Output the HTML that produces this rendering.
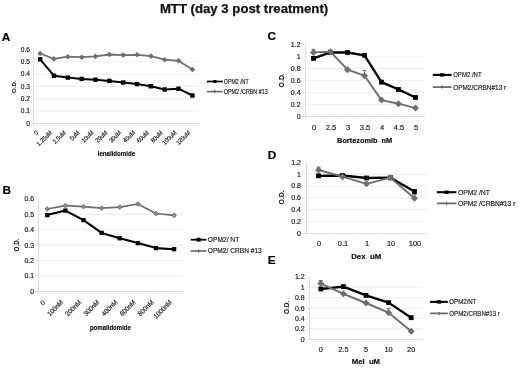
<!DOCTYPE html>
<html><head><meta charset="utf-8"><style>
html,body{margin:0;padding:0;background:#fff;}
svg{display:block;font-family:"Liberation Sans", sans-serif;filter:grayscale(1) blur(0.35px);}

</style></head><body>
<svg width="520" height="368" viewBox="0 0 520 368">
<rect width="520" height="368" fill="#fff"/>
<text x="159.9" y="12.8" font-size="13" font-weight="bold" fill="#111" stroke="#111" stroke-width="0.25" textLength="168.3" lengthAdjust="spacingAndGlyphs">MTT (day 3 post treatment)</text>
<line x1="30.5" y1="111.00" x2="199.3" y2="111.00" stroke="#eeeeee" stroke-width="1.1"/>
<line x1="30.5" y1="98.70" x2="199.3" y2="98.70" stroke="#eeeeee" stroke-width="1.1"/>
<line x1="30.5" y1="86.40" x2="199.3" y2="86.40" stroke="#eeeeee" stroke-width="1.1"/>
<line x1="30.5" y1="74.10" x2="199.3" y2="74.10" stroke="#eeeeee" stroke-width="1.1"/>
<line x1="30.5" y1="61.80" x2="199.3" y2="61.80" stroke="#eeeeee" stroke-width="1.1"/>
<line x1="33.5" y1="49.50" x2="33.5" y2="123.5" stroke="#dedede" stroke-width="1"/>
<line x1="30.5" y1="123.5" x2="199.3" y2="123.5" stroke="#dedede" stroke-width="1"/>
<line x1="33.5" y1="123.5" x2="33.5" y2="125.5" stroke="#e6e6e6" stroke-width="1"/>
<line x1="47.5" y1="123.5" x2="47.5" y2="125.5" stroke="#e6e6e6" stroke-width="1"/>
<line x1="60.5" y1="123.5" x2="60.5" y2="125.5" stroke="#e6e6e6" stroke-width="1"/>
<line x1="74.5" y1="123.5" x2="74.5" y2="125.5" stroke="#e6e6e6" stroke-width="1"/>
<line x1="88.5" y1="123.5" x2="88.5" y2="125.5" stroke="#e6e6e6" stroke-width="1"/>
<line x1="102.5" y1="123.5" x2="102.5" y2="125.5" stroke="#e6e6e6" stroke-width="1"/>
<line x1="116.5" y1="123.5" x2="116.5" y2="125.5" stroke="#e6e6e6" stroke-width="1"/>
<line x1="130.5" y1="123.5" x2="130.5" y2="125.5" stroke="#e6e6e6" stroke-width="1"/>
<line x1="143.5" y1="123.5" x2="143.5" y2="125.5" stroke="#e6e6e6" stroke-width="1"/>
<line x1="157.5" y1="123.5" x2="157.5" y2="125.5" stroke="#e6e6e6" stroke-width="1"/>
<line x1="171.5" y1="123.5" x2="171.5" y2="125.5" stroke="#e6e6e6" stroke-width="1"/>
<line x1="185.5" y1="123.5" x2="185.5" y2="125.5" stroke="#e6e6e6" stroke-width="1"/>
<line x1="199.5" y1="123.5" x2="199.5" y2="125.5" stroke="#e6e6e6" stroke-width="1"/>
<text x="30" y="125.61" font-size="6.6" text-anchor="end" font-weight="normal" fill="#1e1e1e" stroke="#1e1e1e" stroke-width="0.18" >0</text>
<text x="30" y="113.31" font-size="6.6" text-anchor="end" font-weight="normal" fill="#1e1e1e" stroke="#1e1e1e" stroke-width="0.18" >0.1</text>
<text x="30" y="101.01" font-size="6.6" text-anchor="end" font-weight="normal" fill="#1e1e1e" stroke="#1e1e1e" stroke-width="0.18" >0.2</text>
<text x="30" y="88.71" font-size="6.6" text-anchor="end" font-weight="normal" fill="#1e1e1e" stroke="#1e1e1e" stroke-width="0.18" >0.3</text>
<text x="30" y="76.41" font-size="6.6" text-anchor="end" font-weight="normal" fill="#1e1e1e" stroke="#1e1e1e" stroke-width="0.18" >0.4</text>
<text x="30" y="64.11" font-size="6.6" text-anchor="end" font-weight="normal" fill="#1e1e1e" stroke="#1e1e1e" stroke-width="0.18" >0.5</text>
<text x="30" y="51.81" font-size="6.6" text-anchor="end" font-weight="normal" fill="#1e1e1e" stroke="#1e1e1e" stroke-width="0.18" >0.6</text>
<text transform="translate(16.4,86.7) rotate(-90)" font-size="6.2" font-weight="bold" text-anchor="middle" fill="#111">O.D.</text>
<text x="1.8" y="40.6" font-size="11.8" text-anchor="start" font-weight="bold" fill="#000" stroke="#000" stroke-width="0.18" >A</text>
<text transform="translate(38.62,133.10) rotate(-45) scale(0.9,1)" font-size="6.3" text-anchor="end" fill="#1e1e1e" stroke="#1e1e1e" stroke-width="0.18">0</text>
<text transform="translate(52.46,133.10) rotate(-45) scale(0.9,1)" font-size="6.3" text-anchor="end" fill="#1e1e1e" stroke="#1e1e1e" stroke-width="0.18">1.25uM</text>
<text transform="translate(66.30,133.10) rotate(-45) scale(0.9,1)" font-size="6.3" text-anchor="end" fill="#1e1e1e" stroke="#1e1e1e" stroke-width="0.18">2.5uM</text>
<text transform="translate(80.15,133.10) rotate(-45) scale(0.9,1)" font-size="6.3" text-anchor="end" fill="#1e1e1e" stroke="#1e1e1e" stroke-width="0.18">5uM</text>
<text transform="translate(93.99,133.10) rotate(-45) scale(0.9,1)" font-size="6.3" text-anchor="end" fill="#1e1e1e" stroke="#1e1e1e" stroke-width="0.18">10uM</text>
<text transform="translate(107.83,133.10) rotate(-45) scale(0.9,1)" font-size="6.3" text-anchor="end" fill="#1e1e1e" stroke="#1e1e1e" stroke-width="0.18">20uM</text>
<text transform="translate(121.67,133.10) rotate(-45) scale(0.9,1)" font-size="6.3" text-anchor="end" fill="#1e1e1e" stroke="#1e1e1e" stroke-width="0.18">30uM</text>
<text transform="translate(135.51,133.10) rotate(-45) scale(0.9,1)" font-size="6.3" text-anchor="end" fill="#1e1e1e" stroke="#1e1e1e" stroke-width="0.18">40uM</text>
<text transform="translate(149.35,133.10) rotate(-45) scale(0.9,1)" font-size="6.3" text-anchor="end" fill="#1e1e1e" stroke="#1e1e1e" stroke-width="0.18">60uM</text>
<text transform="translate(163.20,133.10) rotate(-45) scale(0.9,1)" font-size="6.3" text-anchor="end" fill="#1e1e1e" stroke="#1e1e1e" stroke-width="0.18">80uM</text>
<text transform="translate(177.04,133.10) rotate(-45) scale(0.9,1)" font-size="6.3" text-anchor="end" fill="#1e1e1e" stroke="#1e1e1e" stroke-width="0.18">100uM</text>
<text transform="translate(190.88,133.10) rotate(-45) scale(0.9,1)" font-size="6.3" text-anchor="end" fill="#1e1e1e" stroke="#1e1e1e" stroke-width="0.18">120uM</text>
<text x="116.4" y="156.2" font-size="6.6" text-anchor="middle" font-weight="bold" fill="#111" stroke="#111" stroke-width="0.18" textLength="37.4" lengthAdjust="spacingAndGlyphs" >lenalidomide</text>
<polyline points="40.12,59.30 53.96,75.70 67.80,77.60 81.65,78.90 95.49,79.70 109.33,80.90 123.17,82.50 137.01,84.10 150.85,86.30 164.70,89.50 178.54,88.70 192.38,95.50" fill="none" stroke="#000" stroke-width="2" stroke-linejoin="round"/>
<rect x="37.92" y="57.10" width="4.4" height="4.4" fill="#000"/>
<rect x="51.76" y="73.50" width="4.4" height="4.4" fill="#000"/>
<rect x="65.60" y="75.40" width="4.4" height="4.4" fill="#000"/>
<rect x="79.45" y="76.70" width="4.4" height="4.4" fill="#000"/>
<rect x="93.29" y="77.50" width="4.4" height="4.4" fill="#000"/>
<rect x="107.13" y="78.70" width="4.4" height="4.4" fill="#000"/>
<rect x="120.97" y="80.30" width="4.4" height="4.4" fill="#000"/>
<rect x="134.81" y="81.90" width="4.4" height="4.4" fill="#000"/>
<rect x="148.65" y="84.10" width="4.4" height="4.4" fill="#000"/>
<rect x="162.50" y="87.30" width="4.4" height="4.4" fill="#000"/>
<rect x="176.34" y="86.50" width="4.4" height="4.4" fill="#000"/>
<rect x="190.18" y="93.30" width="4.4" height="4.4" fill="#000"/>
<polyline points="40.12,53.50 53.96,58.90 67.80,56.70 81.65,57.20 95.49,56.40 109.33,54.50 123.17,55.10 137.01,54.80 150.85,56.10 164.70,59.70 178.54,60.80 192.38,69.50" fill="none" stroke="#6e6e6e" stroke-width="1.8" stroke-linejoin="round"/>
<path d="M40.12 50.70L42.92 53.50L40.12 56.30L37.32 53.50Z" fill="#6e6e6e"/>
<path d="M53.96 56.10L56.76 58.90L53.96 61.70L51.16 58.90Z" fill="#6e6e6e"/>
<path d="M67.80 53.90L70.60 56.70L67.80 59.50L65.00 56.70Z" fill="#6e6e6e"/>
<path d="M81.65 54.40L84.45 57.20L81.65 60.00L78.85 57.20Z" fill="#6e6e6e"/>
<path d="M95.49 53.60L98.29 56.40L95.49 59.20L92.69 56.40Z" fill="#6e6e6e"/>
<path d="M109.33 51.70L112.13 54.50L109.33 57.30L106.53 54.50Z" fill="#6e6e6e"/>
<path d="M123.17 52.30L125.97 55.10L123.17 57.90L120.37 55.10Z" fill="#6e6e6e"/>
<path d="M137.01 52.00L139.81 54.80L137.01 57.60L134.21 54.80Z" fill="#6e6e6e"/>
<path d="M150.85 53.30L153.65 56.10L150.85 58.90L148.05 56.10Z" fill="#6e6e6e"/>
<path d="M164.70 56.90L167.50 59.70L164.70 62.50L161.90 59.70Z" fill="#6e6e6e"/>
<path d="M178.54 58.00L181.34 60.80L178.54 63.60L175.74 60.80Z" fill="#6e6e6e"/>
<path d="M192.38 66.70L195.18 69.50L192.38 72.30L189.58 69.50Z" fill="#6e6e6e"/>
<line x1="206.9" y1="81.5" x2="222.8" y2="81.5" stroke="#000" stroke-width="1.7"/>
<rect x="213.35" y="80.00" width="3" height="3" fill="#000"/>
<line x1="206.9" y1="91.6" x2="222.8" y2="91.6" stroke="#666" stroke-width="1.6"/>
<path d="M214.85 89.60L216.15 91.60L214.85 93.60L213.55 91.60Z" fill="#666"/>
<text x="223.8" y="83.98" font-size="6.9" text-anchor="start" font-weight="normal" fill="#222" stroke="#222" stroke-width="0.18" textLength="24.8" lengthAdjust="spacingAndGlyphs" >OPM2 /NT</text>
<text x="223.8" y="94.08" font-size="6.9" text-anchor="start" font-weight="normal" fill="#222" stroke="#222" stroke-width="0.18" textLength="43.9" lengthAdjust="spacingAndGlyphs" >OPM2 /CRBN #13</text>
<line x1="35.5" y1="275.92" x2="183.2" y2="275.92" stroke="#eeeeee" stroke-width="1.1"/>
<line x1="35.5" y1="260.54" x2="183.2" y2="260.54" stroke="#eeeeee" stroke-width="1.1"/>
<line x1="35.5" y1="245.16" x2="183.2" y2="245.16" stroke="#eeeeee" stroke-width="1.1"/>
<line x1="35.5" y1="229.78" x2="183.2" y2="229.78" stroke="#eeeeee" stroke-width="1.1"/>
<line x1="35.5" y1="214.40" x2="183.2" y2="214.40" stroke="#eeeeee" stroke-width="1.1"/>
<line x1="38.5" y1="199.02" x2="38.5" y2="291.5" stroke="#dedede" stroke-width="1"/>
<line x1="35.5" y1="291.5" x2="183.2" y2="291.5" stroke="#dedede" stroke-width="1"/>
<line x1="38.5" y1="291.5" x2="38.5" y2="293.5" stroke="#e6e6e6" stroke-width="1"/>
<line x1="56.5" y1="291.5" x2="56.5" y2="293.5" stroke="#e6e6e6" stroke-width="1"/>
<line x1="74.5" y1="291.5" x2="74.5" y2="293.5" stroke="#e6e6e6" stroke-width="1"/>
<line x1="92.5" y1="291.5" x2="92.5" y2="293.5" stroke="#e6e6e6" stroke-width="1"/>
<line x1="110.5" y1="291.5" x2="110.5" y2="293.5" stroke="#e6e6e6" stroke-width="1"/>
<line x1="128.5" y1="291.5" x2="128.5" y2="293.5" stroke="#e6e6e6" stroke-width="1"/>
<line x1="146.5" y1="291.5" x2="146.5" y2="293.5" stroke="#e6e6e6" stroke-width="1"/>
<line x1="165.5" y1="291.5" x2="165.5" y2="293.5" stroke="#e6e6e6" stroke-width="1"/>
<line x1="183.5" y1="291.5" x2="183.5" y2="293.5" stroke="#e6e6e6" stroke-width="1"/>
<text x="34" y="293.72" font-size="6.9" text-anchor="end" font-weight="normal" fill="#1e1e1e" stroke="#1e1e1e" stroke-width="0.18" >0</text>
<text x="34" y="278.34" font-size="6.9" text-anchor="end" font-weight="normal" fill="#1e1e1e" stroke="#1e1e1e" stroke-width="0.18" >0.1</text>
<text x="34" y="262.96" font-size="6.9" text-anchor="end" font-weight="normal" fill="#1e1e1e" stroke="#1e1e1e" stroke-width="0.18" >0.2</text>
<text x="34" y="247.58" font-size="6.9" text-anchor="end" font-weight="normal" fill="#1e1e1e" stroke="#1e1e1e" stroke-width="0.18" >0.3</text>
<text x="34" y="232.19" font-size="6.9" text-anchor="end" font-weight="normal" fill="#1e1e1e" stroke="#1e1e1e" stroke-width="0.18" >0.4</text>
<text x="34" y="216.81" font-size="6.9" text-anchor="end" font-weight="normal" fill="#1e1e1e" stroke="#1e1e1e" stroke-width="0.18" >0.5</text>
<text x="34" y="201.44" font-size="6.9" text-anchor="end" font-weight="normal" fill="#1e1e1e" stroke="#1e1e1e" stroke-width="0.18" >0.6</text>
<text transform="translate(19,245) rotate(-90)" font-size="6.3" font-weight="bold" text-anchor="middle" fill="#111">O.D.</text>
<text x="2.6" y="193.9" font-size="11.8" text-anchor="start" font-weight="bold" fill="#000" stroke="#000" stroke-width="0.18" >B</text>
<text transform="translate(45.46,302.90) rotate(-45) scale(0.93,1)" font-size="6.8" text-anchor="end" fill="#1e1e1e" stroke="#1e1e1e" stroke-width="0.18">0</text>
<text transform="translate(63.59,302.90) rotate(-45) scale(0.93,1)" font-size="6.8" text-anchor="end" fill="#1e1e1e" stroke="#1e1e1e" stroke-width="0.18">100nM</text>
<text transform="translate(81.71,302.90) rotate(-45) scale(0.93,1)" font-size="6.8" text-anchor="end" fill="#1e1e1e" stroke="#1e1e1e" stroke-width="0.18">200nM</text>
<text transform="translate(99.84,302.90) rotate(-45) scale(0.93,1)" font-size="6.8" text-anchor="end" fill="#1e1e1e" stroke="#1e1e1e" stroke-width="0.18">300nM</text>
<text transform="translate(117.96,302.90) rotate(-45) scale(0.93,1)" font-size="6.8" text-anchor="end" fill="#1e1e1e" stroke="#1e1e1e" stroke-width="0.18">400nM</text>
<text transform="translate(136.09,302.90) rotate(-45) scale(0.93,1)" font-size="6.8" text-anchor="end" fill="#1e1e1e" stroke="#1e1e1e" stroke-width="0.18">600nM</text>
<text transform="translate(154.21,302.90) rotate(-45) scale(0.93,1)" font-size="6.8" text-anchor="end" fill="#1e1e1e" stroke="#1e1e1e" stroke-width="0.18">800nM</text>
<text transform="translate(172.34,302.90) rotate(-45) scale(0.93,1)" font-size="6.8" text-anchor="end" fill="#1e1e1e" stroke="#1e1e1e" stroke-width="0.18">1000nM</text>
<text x="110.4" y="330" font-size="6.8" text-anchor="middle" font-weight="bold" fill="#111" stroke="#111" stroke-width="0.18" textLength="41" lengthAdjust="spacingAndGlyphs" >pomalidomide</text>
<polyline points="47.26,215.10 65.39,210.60 83.51,220.10 101.64,232.90 119.76,238.30 137.89,243.10 156.01,248.10 174.14,249.20" fill="none" stroke="#000" stroke-width="2.1" stroke-linejoin="round"/>
<rect x="45.11" y="212.95" width="4.3" height="4.3" fill="#000"/>
<rect x="63.24" y="208.45" width="4.3" height="4.3" fill="#000"/>
<rect x="81.36" y="217.95" width="4.3" height="4.3" fill="#000"/>
<rect x="99.49" y="230.75" width="4.3" height="4.3" fill="#000"/>
<rect x="117.61" y="236.15" width="4.3" height="4.3" fill="#000"/>
<rect x="135.74" y="240.95" width="4.3" height="4.3" fill="#000"/>
<rect x="153.86" y="245.95" width="4.3" height="4.3" fill="#000"/>
<rect x="171.99" y="247.05" width="4.3" height="4.3" fill="#000"/>
<polyline points="47.26,209.00 65.39,205.60 83.51,206.60 101.64,208.10 119.76,207.10 137.89,204.00 156.01,213.50 174.14,215.40" fill="none" stroke="#6e6e6e" stroke-width="1.6" stroke-linejoin="round"/>
<path d="M47.26 206.70L49.56 209.00L47.26 211.30L44.96 209.00Z" fill="#8e8e8e" stroke="#5e5e5e" stroke-width="0.8"/>
<path d="M65.39 203.30L67.69 205.60L65.39 207.90L63.09 205.60Z" fill="#8e8e8e" stroke="#5e5e5e" stroke-width="0.8"/>
<path d="M83.51 204.30L85.81 206.60L83.51 208.90L81.21 206.60Z" fill="#8e8e8e" stroke="#5e5e5e" stroke-width="0.8"/>
<path d="M101.64 205.80L103.94 208.10L101.64 210.40L99.34 208.10Z" fill="#8e8e8e" stroke="#5e5e5e" stroke-width="0.8"/>
<path d="M119.76 204.80L122.06 207.10L119.76 209.40L117.46 207.10Z" fill="#8e8e8e" stroke="#5e5e5e" stroke-width="0.8"/>
<path d="M137.89 201.70L140.19 204.00L137.89 206.30L135.59 204.00Z" fill="#8e8e8e" stroke="#5e5e5e" stroke-width="0.8"/>
<path d="M156.01 211.20L158.31 213.50L156.01 215.80L153.71 213.50Z" fill="#8e8e8e" stroke="#5e5e5e" stroke-width="0.8"/>
<path d="M174.14 213.10L176.44 215.40L174.14 217.70L171.84 215.40Z" fill="#8e8e8e" stroke="#5e5e5e" stroke-width="0.8"/>
<line x1="190.8" y1="239.7" x2="206.5" y2="239.7" stroke="#000" stroke-width="1.8"/>
<rect x="196.65" y="237.80" width="4" height="3.8" fill="#000"/>
<line x1="190.8" y1="251.0" x2="206.5" y2="251.0" stroke="#666" stroke-width="1.6"/>
<path d="M198.65 249.00L199.95 251.00L198.65 253.00L197.35 251.00Z" fill="#666"/>
<text x="207.8" y="242.15" font-size="6.8" text-anchor="start" font-weight="normal" fill="#222" stroke="#222" stroke-width="0.18" textLength="31.4" lengthAdjust="spacingAndGlyphs" >OPM2/ NT</text>
<text x="207.8" y="253.45" font-size="6.8" text-anchor="start" font-weight="normal" fill="#222" stroke="#222" stroke-width="0.18" textLength="54" lengthAdjust="spacingAndGlyphs" >OPM2/ CRBN #13</text>
<line x1="302.5" y1="104.77" x2="424.0" y2="104.77" stroke="#eeeeee" stroke-width="1.1"/>
<line x1="302.5" y1="92.64" x2="424.0" y2="92.64" stroke="#eeeeee" stroke-width="1.1"/>
<line x1="302.5" y1="80.51" x2="424.0" y2="80.51" stroke="#eeeeee" stroke-width="1.1"/>
<line x1="302.5" y1="68.38" x2="424.0" y2="68.38" stroke="#eeeeee" stroke-width="1.1"/>
<line x1="302.5" y1="56.25" x2="424.0" y2="56.25" stroke="#eeeeee" stroke-width="1.1"/>
<line x1="305.5" y1="44.12" x2="305.5" y2="116.5" stroke="#dedede" stroke-width="1"/>
<line x1="302.5" y1="116.5" x2="424.0" y2="116.5" stroke="#dedede" stroke-width="1"/>
<line x1="305.5" y1="116.5" x2="305.5" y2="118.5" stroke="#e6e6e6" stroke-width="1"/>
<line x1="322.5" y1="116.5" x2="322.5" y2="118.5" stroke="#e6e6e6" stroke-width="1"/>
<line x1="339.5" y1="116.5" x2="339.5" y2="118.5" stroke="#e6e6e6" stroke-width="1"/>
<line x1="356.5" y1="116.5" x2="356.5" y2="118.5" stroke="#e6e6e6" stroke-width="1"/>
<line x1="373.5" y1="116.5" x2="373.5" y2="118.5" stroke="#e6e6e6" stroke-width="1"/>
<line x1="390.5" y1="116.5" x2="390.5" y2="118.5" stroke="#e6e6e6" stroke-width="1"/>
<line x1="407.5" y1="116.5" x2="407.5" y2="118.5" stroke="#e6e6e6" stroke-width="1"/>
<line x1="424.5" y1="116.5" x2="424.5" y2="118.5" stroke="#e6e6e6" stroke-width="1"/>
<text x="300.6" y="119.35" font-size="7" text-anchor="end" font-weight="normal" fill="#1e1e1e" stroke="#1e1e1e" stroke-width="0.18" >0</text>
<text x="300.6" y="107.22" font-size="7" text-anchor="end" font-weight="normal" fill="#1e1e1e" stroke="#1e1e1e" stroke-width="0.18" >0.2</text>
<text x="300.6" y="95.09" font-size="7" text-anchor="end" font-weight="normal" fill="#1e1e1e" stroke="#1e1e1e" stroke-width="0.18" >0.4</text>
<text x="300.6" y="82.96" font-size="7" text-anchor="end" font-weight="normal" fill="#1e1e1e" stroke="#1e1e1e" stroke-width="0.18" >0.6</text>
<text x="300.6" y="70.83" font-size="7" text-anchor="end" font-weight="normal" fill="#1e1e1e" stroke="#1e1e1e" stroke-width="0.18" >0.8</text>
<text x="300.6" y="58.70" font-size="7" text-anchor="end" font-weight="normal" fill="#1e1e1e" stroke="#1e1e1e" stroke-width="0.18" >1</text>
<text x="300.6" y="46.57" font-size="7" text-anchor="end" font-weight="normal" fill="#1e1e1e" stroke="#1e1e1e" stroke-width="0.18" >1.2</text>
<text transform="translate(284.2,80.3) rotate(-90)" font-size="6.9" font-weight="bold" text-anchor="middle" fill="#111">O.D.</text>
<text x="267.6" y="40.2" font-size="11.8" text-anchor="start" font-weight="bold" fill="#000" stroke="#000" stroke-width="0.18" >C</text>
<text x="314.00" y="129.70" font-size="7.5" text-anchor="middle" font-weight="normal" fill="#1e1e1e" stroke="#1e1e1e" stroke-width="0.18" >0</text>
<text x="331.00" y="129.70" font-size="7.5" text-anchor="middle" font-weight="normal" fill="#1e1e1e" stroke="#1e1e1e" stroke-width="0.18" >2.5</text>
<text x="348.00" y="129.70" font-size="7.5" text-anchor="middle" font-weight="normal" fill="#1e1e1e" stroke="#1e1e1e" stroke-width="0.18" >3</text>
<text x="365.00" y="129.70" font-size="7.5" text-anchor="middle" font-weight="normal" fill="#1e1e1e" stroke="#1e1e1e" stroke-width="0.18" >3.5</text>
<text x="382.00" y="129.70" font-size="7.5" text-anchor="middle" font-weight="normal" fill="#1e1e1e" stroke="#1e1e1e" stroke-width="0.18" >4</text>
<text x="399.00" y="129.70" font-size="7.5" text-anchor="middle" font-weight="normal" fill="#1e1e1e" stroke="#1e1e1e" stroke-width="0.18" >4.5</text>
<text x="416.00" y="129.70" font-size="7.5" text-anchor="middle" font-weight="normal" fill="#1e1e1e" stroke="#1e1e1e" stroke-width="0.18" >5</text>
<text x="364.6" y="143.2" font-size="7" text-anchor="middle" font-weight="bold" fill="#111" stroke="#111" stroke-width="0.18" textLength="55" lengthAdjust="spacingAndGlyphs" >Bortezomib&#160;&#160;nM</text>
<line x1="313.50" y1="52.40" x2="313.50" y2="49.37" stroke="#6e6e6e" stroke-width="1"/>
<line x1="311.50" y1="49.37" x2="315.50" y2="49.37" stroke="#6e6e6e" stroke-width="1"/>
<line x1="364.50" y1="75.70" x2="364.50" y2="70.54" stroke="#6e6e6e" stroke-width="1"/>
<line x1="362.50" y1="70.54" x2="366.50" y2="70.54" stroke="#6e6e6e" stroke-width="1"/>
<polyline points="313.50,58.40 330.50,52.30 347.50,52.50 364.50,55.30 381.50,82.10 398.50,89.50 415.50,97.50" fill="none" stroke="#000" stroke-width="2.3" stroke-linejoin="round"/>
<rect x="311.10" y="56.00" width="4.8" height="4.8" fill="#000"/>
<rect x="328.10" y="49.90" width="4.8" height="4.8" fill="#000"/>
<rect x="345.10" y="50.10" width="4.8" height="4.8" fill="#000"/>
<rect x="362.10" y="52.90" width="4.8" height="4.8" fill="#000"/>
<rect x="379.10" y="79.70" width="4.8" height="4.8" fill="#000"/>
<rect x="396.10" y="87.10" width="4.8" height="4.8" fill="#000"/>
<rect x="413.10" y="95.10" width="4.8" height="4.8" fill="#000"/>
<polyline points="313.50,52.40 330.50,51.80 347.50,69.70 364.50,75.70 381.50,100.10 398.50,103.70 415.50,108.10" fill="none" stroke="#6e6e6e" stroke-width="1.9" stroke-linejoin="round"/>
<path d="M313.50 48.90L317.00 52.40L313.50 55.90L310.00 52.40Z" fill="#6e6e6e"/>
<path d="M330.50 48.30L334.00 51.80L330.50 55.30L327.00 51.80Z" fill="#6e6e6e"/>
<path d="M347.50 66.20L351.00 69.70L347.50 73.20L344.00 69.70Z" fill="#6e6e6e"/>
<path d="M364.50 72.20L368.00 75.70L364.50 79.20L361.00 75.70Z" fill="#6e6e6e"/>
<path d="M381.50 96.60L385.00 100.10L381.50 103.60L378.00 100.10Z" fill="#6e6e6e"/>
<path d="M398.50 100.20L402.00 103.70L398.50 107.20L395.00 103.70Z" fill="#6e6e6e"/>
<path d="M415.50 104.60L419.00 108.10L415.50 111.60L412.00 108.10Z" fill="#6e6e6e"/>
<line x1="432.8" y1="74.9" x2="451.6" y2="74.9" stroke="#000" stroke-width="2.1"/>
<rect x="440.10" y="73.20" width="4.2" height="3.4" fill="#000"/>
<line x1="432.8" y1="87.1" x2="451.6" y2="87.1" stroke="#666" stroke-width="1.7"/>
<path d="M442.20 85.10L443.50 87.10L442.20 89.10L440.90 87.10Z" fill="#666"/>
<text x="453.2" y="77.49" font-size="7.2" text-anchor="start" font-weight="normal" fill="#222" stroke="#222" stroke-width="0.18" textLength="28.4" lengthAdjust="spacingAndGlyphs" >OPM2 /NT</text>
<text x="453.2" y="89.69" font-size="7.2" text-anchor="start" font-weight="normal" fill="#222" stroke="#222" stroke-width="0.18" textLength="53" lengthAdjust="spacingAndGlyphs" >OPM2/CRBN#13 r</text>
<line x1="303.5" y1="221.78" x2="426.5" y2="221.78" stroke="#eeeeee" stroke-width="1.1"/>
<line x1="303.5" y1="209.86" x2="426.5" y2="209.86" stroke="#eeeeee" stroke-width="1.1"/>
<line x1="303.5" y1="197.94" x2="426.5" y2="197.94" stroke="#eeeeee" stroke-width="1.1"/>
<line x1="303.5" y1="186.02" x2="426.5" y2="186.02" stroke="#eeeeee" stroke-width="1.1"/>
<line x1="303.5" y1="174.10" x2="426.5" y2="174.10" stroke="#eeeeee" stroke-width="1.1"/>
<line x1="306.5" y1="162.18" x2="306.5" y2="233.5" stroke="#dedede" stroke-width="1"/>
<line x1="303.5" y1="233.5" x2="426.5" y2="233.5" stroke="#dedede" stroke-width="1"/>
<line x1="306.5" y1="233.5" x2="306.5" y2="235.5" stroke="#e6e6e6" stroke-width="1"/>
<line x1="330.5" y1="233.5" x2="330.5" y2="235.5" stroke="#e6e6e6" stroke-width="1"/>
<line x1="354.5" y1="233.5" x2="354.5" y2="235.5" stroke="#e6e6e6" stroke-width="1"/>
<line x1="378.5" y1="233.5" x2="378.5" y2="235.5" stroke="#e6e6e6" stroke-width="1"/>
<line x1="402.5" y1="233.5" x2="402.5" y2="235.5" stroke="#e6e6e6" stroke-width="1"/>
<line x1="426.5" y1="233.5" x2="426.5" y2="235.5" stroke="#e6e6e6" stroke-width="1"/>
<text x="301" y="236.15" font-size="7" text-anchor="end" font-weight="normal" fill="#1e1e1e" stroke="#1e1e1e" stroke-width="0.18" >0</text>
<text x="301" y="224.23" font-size="7" text-anchor="end" font-weight="normal" fill="#1e1e1e" stroke="#1e1e1e" stroke-width="0.18" >0.2</text>
<text x="301" y="212.31" font-size="7" text-anchor="end" font-weight="normal" fill="#1e1e1e" stroke="#1e1e1e" stroke-width="0.18" >0.4</text>
<text x="301" y="200.39" font-size="7" text-anchor="end" font-weight="normal" fill="#1e1e1e" stroke="#1e1e1e" stroke-width="0.18" >0.6</text>
<text x="301" y="188.47" font-size="7" text-anchor="end" font-weight="normal" fill="#1e1e1e" stroke="#1e1e1e" stroke-width="0.18" >0.8</text>
<text x="301" y="176.55" font-size="7" text-anchor="end" font-weight="normal" fill="#1e1e1e" stroke="#1e1e1e" stroke-width="0.18" >1</text>
<text x="301" y="164.63" font-size="7" text-anchor="end" font-weight="normal" fill="#1e1e1e" stroke="#1e1e1e" stroke-width="0.18" >1.2</text>
<text transform="translate(284.2,197.5) rotate(-90)" font-size="6.9" font-weight="bold" text-anchor="middle" fill="#111">O.D.</text>
<text x="267.8" y="158.9" font-size="11.8" text-anchor="start" font-weight="bold" fill="#000" stroke="#000" stroke-width="0.18" >D</text>
<text x="319.00" y="246.00" font-size="7.4" text-anchor="middle" font-weight="normal" fill="#1e1e1e" stroke="#1e1e1e" stroke-width="0.18" >0</text>
<text x="343.00" y="246.00" font-size="7.4" text-anchor="middle" font-weight="normal" fill="#1e1e1e" stroke="#1e1e1e" stroke-width="0.18" >0.1</text>
<text x="367.00" y="246.00" font-size="7.4" text-anchor="middle" font-weight="normal" fill="#1e1e1e" stroke="#1e1e1e" stroke-width="0.18" >1</text>
<text x="391.00" y="246.00" font-size="7.4" text-anchor="middle" font-weight="normal" fill="#1e1e1e" stroke="#1e1e1e" stroke-width="0.18" >10</text>
<text x="415.00" y="246.00" font-size="7.4" text-anchor="middle" font-weight="normal" fill="#1e1e1e" stroke="#1e1e1e" stroke-width="0.18" >100</text>
<text x="366.2" y="258.6" font-size="7" text-anchor="middle" font-weight="bold" fill="#111" stroke="#111" stroke-width="0.18" textLength="30" lengthAdjust="spacingAndGlyphs" >Dex&#160;&#160;uM</text>
<line x1="318.50" y1="170.00" x2="318.50" y2="167.02" stroke="#6e6e6e" stroke-width="1"/>
<line x1="316.50" y1="167.02" x2="320.50" y2="167.02" stroke="#6e6e6e" stroke-width="1"/>
<line x1="414.50" y1="198.20" x2="414.50" y2="194.62" stroke="#6e6e6e" stroke-width="1"/>
<line x1="412.50" y1="194.62" x2="416.50" y2="194.62" stroke="#6e6e6e" stroke-width="1"/>
<polyline points="318.50,175.80 342.50,175.50 366.50,178.00 390.50,177.70 414.50,191.50" fill="none" stroke="#000" stroke-width="2.3" stroke-linejoin="round"/>
<rect x="316.10" y="173.40" width="4.8" height="4.8" fill="#000"/>
<rect x="340.10" y="173.10" width="4.8" height="4.8" fill="#000"/>
<rect x="364.10" y="175.60" width="4.8" height="4.8" fill="#000"/>
<rect x="388.10" y="175.30" width="4.8" height="4.8" fill="#000"/>
<rect x="412.10" y="189.10" width="4.8" height="4.8" fill="#000"/>
<polyline points="318.50,170.00 342.50,176.70 366.50,183.80 390.50,177.70 414.50,198.20" fill="none" stroke="#6e6e6e" stroke-width="1.9" stroke-linejoin="round"/>
<path d="M318.50 166.50L322.00 170.00L318.50 173.50L315.00 170.00Z" fill="#6e6e6e"/>
<path d="M342.50 173.20L346.00 176.70L342.50 180.20L339.00 176.70Z" fill="#6e6e6e"/>
<path d="M366.50 180.30L370.00 183.80L366.50 187.30L363.00 183.80Z" fill="#6e6e6e"/>
<path d="M390.50 174.20L394.00 177.70L390.50 181.20L387.00 177.70Z" fill="#6e6e6e"/>
<path d="M414.50 194.70L418.00 198.20L414.50 201.70L411.00 198.20Z" fill="#6e6e6e"/>
<line x1="436.9" y1="192.2" x2="456.4" y2="192.2" stroke="#000" stroke-width="2.1"/>
<rect x="444.55" y="190.50" width="4.2" height="3.4" fill="#000"/>
<line x1="436.9" y1="203.4" x2="456.4" y2="203.4" stroke="#666" stroke-width="1.7"/>
<path d="M446.65 201.40L447.95 203.40L446.65 205.40L445.35 203.40Z" fill="#666"/>
<text x="457.9" y="194.79" font-size="7.2" text-anchor="start" font-weight="normal" fill="#222" stroke="#222" stroke-width="0.18" textLength="32" lengthAdjust="spacingAndGlyphs" >OPM2 /NT</text>
<text x="457.9" y="205.99" font-size="7.2" text-anchor="start" font-weight="normal" fill="#222" stroke="#222" stroke-width="0.18" textLength="57.5" lengthAdjust="spacingAndGlyphs" >OPM2 /CRBN#13 r</text>
<line x1="306.5" y1="328.84" x2="422.5" y2="328.84" stroke="#eeeeee" stroke-width="1.1"/>
<line x1="306.5" y1="318.48" x2="422.5" y2="318.48" stroke="#eeeeee" stroke-width="1.1"/>
<line x1="306.5" y1="308.12" x2="422.5" y2="308.12" stroke="#eeeeee" stroke-width="1.1"/>
<line x1="306.5" y1="297.76" x2="422.5" y2="297.76" stroke="#eeeeee" stroke-width="1.1"/>
<line x1="306.5" y1="287.40" x2="422.5" y2="287.40" stroke="#eeeeee" stroke-width="1.1"/>
<line x1="309.5" y1="277.04" x2="309.5" y2="339.5" stroke="#dedede" stroke-width="1"/>
<line x1="306.5" y1="339.5" x2="422.5" y2="339.5" stroke="#dedede" stroke-width="1"/>
<line x1="309.5" y1="339.5" x2="309.5" y2="341.5" stroke="#e6e6e6" stroke-width="1"/>
<line x1="332.5" y1="339.5" x2="332.5" y2="341.5" stroke="#e6e6e6" stroke-width="1"/>
<line x1="354.5" y1="339.5" x2="354.5" y2="341.5" stroke="#e6e6e6" stroke-width="1"/>
<line x1="377.5" y1="339.5" x2="377.5" y2="341.5" stroke="#e6e6e6" stroke-width="1"/>
<line x1="399.5" y1="339.5" x2="399.5" y2="341.5" stroke="#e6e6e6" stroke-width="1"/>
<line x1="422.5" y1="339.5" x2="422.5" y2="341.5" stroke="#e6e6e6" stroke-width="1"/>
<text x="304.7" y="341.65" font-size="7" text-anchor="end" font-weight="normal" fill="#1e1e1e" stroke="#1e1e1e" stroke-width="0.18" >0</text>
<text x="304.7" y="331.29" font-size="7" text-anchor="end" font-weight="normal" fill="#1e1e1e" stroke="#1e1e1e" stroke-width="0.18" >0.2</text>
<text x="304.7" y="320.93" font-size="7" text-anchor="end" font-weight="normal" fill="#1e1e1e" stroke="#1e1e1e" stroke-width="0.18" >0.4</text>
<text x="304.7" y="310.57" font-size="7" text-anchor="end" font-weight="normal" fill="#1e1e1e" stroke="#1e1e1e" stroke-width="0.18" >0.6</text>
<text x="304.7" y="300.21" font-size="7" text-anchor="end" font-weight="normal" fill="#1e1e1e" stroke="#1e1e1e" stroke-width="0.18" >0.8</text>
<text x="304.7" y="289.85" font-size="7" text-anchor="end" font-weight="normal" fill="#1e1e1e" stroke="#1e1e1e" stroke-width="0.18" >1</text>
<text x="304.7" y="279.49" font-size="7" text-anchor="end" font-weight="normal" fill="#1e1e1e" stroke="#1e1e1e" stroke-width="0.18" >1.2</text>
<text transform="translate(289,307.4) rotate(-90)" font-size="6.5" font-weight="bold" text-anchor="middle" fill="#111">O.D.</text>
<text x="267.8" y="264.3" font-size="11.8" text-anchor="start" font-weight="bold" fill="#000" stroke="#000" stroke-width="0.18" >E</text>
<text x="320.80" y="351.70" font-size="7.4" text-anchor="middle" font-weight="normal" fill="#1e1e1e" stroke="#1e1e1e" stroke-width="0.18" >0</text>
<text x="343.40" y="351.70" font-size="7.4" text-anchor="middle" font-weight="normal" fill="#1e1e1e" stroke="#1e1e1e" stroke-width="0.18" >2.5</text>
<text x="366.00" y="351.70" font-size="7.4" text-anchor="middle" font-weight="normal" fill="#1e1e1e" stroke="#1e1e1e" stroke-width="0.18" >5</text>
<text x="388.60" y="351.70" font-size="7.4" text-anchor="middle" font-weight="normal" fill="#1e1e1e" stroke="#1e1e1e" stroke-width="0.18" >10</text>
<text x="411.20" y="351.70" font-size="7.4" text-anchor="middle" font-weight="normal" fill="#1e1e1e" stroke="#1e1e1e" stroke-width="0.18" >20</text>
<text x="365.9" y="363.6" font-size="7" text-anchor="middle" font-weight="bold" fill="#111" stroke="#111" stroke-width="0.18" textLength="28.3" lengthAdjust="spacingAndGlyphs" >Mel&#160;&#160;uM</text>
<line x1="320.80" y1="283.60" x2="320.80" y2="280.49" stroke="#6e6e6e" stroke-width="1"/>
<line x1="318.80" y1="280.49" x2="322.80" y2="280.49" stroke="#6e6e6e" stroke-width="1"/>
<line x1="388.60" y1="312.70" x2="388.60" y2="308.56" stroke="#6e6e6e" stroke-width="1"/>
<line x1="386.60" y1="308.56" x2="390.60" y2="308.56" stroke="#6e6e6e" stroke-width="1"/>
<polyline points="320.80,289.00 343.40,286.60 366.00,295.40 388.60,302.60 411.20,317.70" fill="none" stroke="#000" stroke-width="2.3" stroke-linejoin="round"/>
<rect x="318.40" y="286.60" width="4.8" height="4.8" fill="#000"/>
<rect x="341.00" y="284.20" width="4.8" height="4.8" fill="#000"/>
<rect x="363.60" y="293.00" width="4.8" height="4.8" fill="#000"/>
<rect x="386.20" y="300.20" width="4.8" height="4.8" fill="#000"/>
<rect x="408.80" y="315.30" width="4.8" height="4.8" fill="#000"/>
<polyline points="320.80,283.60 343.40,293.80 366.00,303.00 388.60,312.70 411.20,331.30" fill="none" stroke="#6e6e6e" stroke-width="1.9" stroke-linejoin="round"/>
<path d="M320.80 280.10L324.30 283.60L320.80 287.10L317.30 283.60Z" fill="#6e6e6e"/>
<path d="M343.40 290.30L346.90 293.80L343.40 297.30L339.90 293.80Z" fill="#6e6e6e"/>
<path d="M366.00 299.50L369.50 303.00L366.00 306.50L362.50 303.00Z" fill="#6e6e6e"/>
<path d="M388.60 309.20L392.10 312.70L388.60 316.20L385.10 312.70Z" fill="#6e6e6e"/>
<path d="M411.20 327.80L414.70 331.30L411.20 334.80L407.70 331.30Z" fill="#6e6e6e"/>
<line x1="430.1" y1="301.9" x2="447.8" y2="301.9" stroke="#000" stroke-width="2.1"/>
<rect x="436.85" y="300.20" width="4.2" height="3.4" fill="#000"/>
<line x1="430.1" y1="313.4" x2="447.8" y2="313.4" stroke="#666" stroke-width="1.7"/>
<path d="M438.95 311.40L440.25 313.40L438.95 315.40L437.65 313.40Z" fill="#666"/>
<text x="449.3" y="304.49" font-size="7.2" text-anchor="start" font-weight="normal" fill="#222" stroke="#222" stroke-width="0.18" textLength="27.2" lengthAdjust="spacingAndGlyphs" >OPM2/NT</text>
<text x="449.3" y="315.99" font-size="7.2" text-anchor="start" font-weight="normal" fill="#222" stroke="#222" stroke-width="0.18" textLength="50.6" lengthAdjust="spacingAndGlyphs" >OPM2/CRBN#13 r</text>
</svg>
</body></html>
